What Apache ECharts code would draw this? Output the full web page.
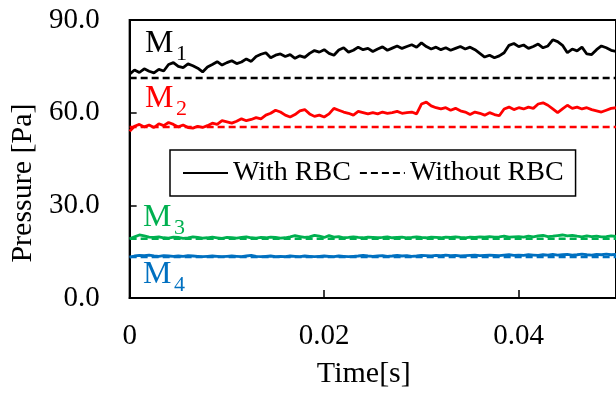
<!DOCTYPE html>
<html>
<head>
<meta charset="utf-8">
<script src="https://cdn.jsdelivr.net/npm/echarts@6/dist/echarts.min.js"></script>
<style>
  html, body { margin: 0; padding: 0; background: #fff; }
  #chart { width: 616px; height: 394px; }
</style>
</head>
<body>
<div id="chart"></div>
<script>
// sample step in seconds
const step = 0.0005
const xMax = 0.05

const m1With = [
  72.5, 73.8, 73.0, 74.2, 73.4, 72.9, 74.0, 73.5, 75.6, 76.2,
  75.0, 74.6, 75.8, 75.2, 74.4, 73.2, 74.8, 75.6, 76.5, 75.4,
  76.2, 76.8, 75.9, 76.4, 77.4, 76.6, 78.2, 78.9, 79.4, 77.8,
  78.6, 79.0, 78.2, 78.8, 77.6, 78.4, 77.9, 79.2, 80.1, 79.6,
  80.4, 79.2, 78.6, 80.3, 81.0, 79.6, 80.2, 81.2, 80.4, 80.8,
  79.8, 80.6, 81.3, 80.2, 80.9, 81.6, 80.8, 81.4, 82.0, 81.2,
  82.6, 81.4, 80.6, 81.2, 80.4, 81.0, 80.2, 80.8, 81.4, 80.6,
  81.2, 80.4, 79.2, 78.0, 78.6, 77.8, 78.4, 79.4, 81.8, 82.4,
  81.4, 81.9, 80.8, 81.4, 82.2, 81.0, 81.6, 83.6, 83.0, 81.8,
  79.4, 80.6, 80.0, 81.2, 79.0, 78.8, 80.4, 81.6, 81.0, 80.2, 79.8
]
const m2With = [
  54.0, 55.6, 56.2, 55.4, 56.0, 55.2, 56.4, 55.8, 56.8, 56.2,
  55.4, 56.0, 55.2, 55.0, 55.6, 55.2, 55.8, 56.6, 56.2, 57.4,
  57.0, 56.6, 57.2, 58.0, 57.4, 57.8, 58.4, 58.0, 59.2, 59.8,
  60.8, 60.2, 59.2, 58.6, 59.4, 60.6, 61.0, 59.6, 58.8, 59.2,
  58.6, 59.6, 61.4, 60.8, 60.2, 59.8, 59.2, 60.4, 60.0, 59.6,
  60.0, 59.6, 60.2, 59.8, 60.0, 60.4, 59.8, 60.0, 60.2, 59.6,
  62.8, 63.4, 62.2, 61.6, 61.2, 61.6, 60.8, 61.4, 60.6, 60.2,
  59.4, 60.2, 59.8, 59.2, 60.0, 59.4, 59.0, 61.2, 61.8, 61.0,
  61.6, 61.2, 61.8, 61.4, 62.8, 63.2, 62.4, 61.2, 60.0, 61.2,
  62.4, 61.4, 61.8, 61.2, 61.6, 61.0, 60.6, 60.2, 60.8, 61.4, 61.6
]
const m3With = [
  19.2, 19.8, 20.4, 20.1, 19.7, 19.6, 19.8, 19.5, 19.4, 19.7,
  19.6, 19.3, 19.5, 19.8, 19.6, 19.4, 19.5, 19.7, 19.5, 19.3,
  19.6, 19.5, 19.4, 19.6, 19.8, 19.5, 19.4, 19.6, 19.5, 19.7,
  19.6, 19.4, 19.5, 19.8, 20.2, 19.9, 19.6, 19.8, 20.3, 20.0,
  19.6, 20.2, 19.7, 19.9, 19.5, 19.6, 19.8, 19.6, 19.5, 19.7,
  19.6, 19.5, 19.6, 19.8, 19.5, 19.6, 19.7, 19.5, 19.6, 19.8,
  19.6, 19.5, 19.7, 19.6, 19.5, 19.7, 19.6, 19.8, 19.6, 19.5,
  19.7, 19.6, 19.8, 19.7, 19.9, 19.7, 19.8, 20.0, 19.7, 19.8,
  19.9, 19.7, 20.0, 19.8, 20.1, 20.3, 19.9, 20.0, 20.2, 20.4,
  20.1, 20.3, 20.0, 19.8, 20.1, 19.9, 20.0, 19.8, 19.9, 20.1, 19.9
]
const m4With = [
  13.2, 13.6, 13.8, 13.7, 13.9, 13.6, 13.5, 13.7, 13.6, 13.5,
  13.6, 13.5, 13.7, 13.6, 13.5, 13.4, 13.5, 13.6, 13.5, 13.4,
  13.5, 13.6, 13.5, 13.4, 13.6, 13.8, 13.5, 13.4, 13.5, 13.6,
  13.4, 13.5, 13.4, 13.6, 13.5, 13.4, 13.6, 13.5, 13.4, 13.5,
  13.6, 13.5, 13.4, 13.6, 13.5, 13.4, 13.5, 13.6, 13.8, 13.6,
  13.5, 13.6, 13.7, 13.5, 13.6, 13.8, 13.6, 13.7, 13.5, 13.6,
  13.8, 13.7, 13.6, 13.8, 13.7, 13.9, 13.7, 13.8, 13.6, 13.7,
  13.8, 13.9, 13.7, 13.8, 13.9, 13.8, 13.7, 13.9, 14.0, 13.8,
  13.9, 13.8, 14.0, 13.9, 13.8, 14.0, 13.9, 14.1, 13.9, 14.0,
  14.1, 13.9, 14.0, 14.2, 14.0, 13.9, 14.1, 14.0, 14.2, 14.0, 14.1
]
// without RBC: flat levels
const withoutLevels = [71.2, 55.4, 19.2, 13.3]

const labels = ['1', '2', '3', '4']
const colors = ['#000000', '#ff0000', '#00b050', '#0070c0']
const font = '"Liberation Serif", "Times New Roman", serif'

const withData = [m1With, m2With, m3With, m4With]

const series = []
withData.forEach((vals, k) => {
  series.push({
    name: 'With RBC',
    type: 'line',
    symbol: 'none',
    data: vals.map((v, i) => [i * step, v]),
    lineStyle: { color: colors[k], width: 2.8 },
    itemStyle: { color: colors[k] },
    z: 3
  })
})
withoutLevels.forEach((v, k) => {
  series.push({
    name: 'Without RBC',
    type: 'line',
    symbol: 'none',
    data: [[0, v], [xMax, v]],
    lineStyle: { color: colors[k], width: 2.5, type: [7, 4] },
    itemStyle: { color: colors[k] },
    z: 2
  })
})

// M labels (pixel spots next to each curve)
const mSpots = [
  { x: 145, y: 44 },
  { x: 145, y: 99 },
  { x: 143, y: 218 },
  { x: 143, y: 275 }
]
const graphics = []
mSpots.forEach((p, k) => {
  graphics.push({
    type: 'text', x: p.x, y: p.y,
    style: { text: 'M', fill: colors[k], font: '32px ' + font, verticalAlign: 'middle' }
  })
  graphics.push({
    type: 'text', x: p.x + 31, y: p.y + 10,
    style: { text: labels[k], fill: colors[k], font: '22px ' + font, verticalAlign: 'middle' }
  })
})

const chart = echarts.init(document.getElementById('chart'), null, { renderer: 'canvas' })
chart.setOption({
  animation: false,
  backgroundColor: '#fff',
  grid: {
    left: 128, top: 20, right: -2, bottom: 96,
    show: true, borderColor: '#000', borderWidth: 2, backgroundColor: 'transparent'
  },
  legend: {
    data: ['With RBC', 'Without RBC'],
    left: 170, top: 150,
    padding: [9, 12, 9, 12],
    itemWidth: 45, itemHeight: 14, itemGap: 8,
    itemStyle: { opacity: 0, borderWidth: 0 },
    lineStyle: { width: 2 },
    borderColor: '#000', borderWidth: 1.5,
    backgroundColor: '#fff',
    textStyle: { fontFamily: font, fontSize: 28, color: '#000' }
  },
  xAxis: {
    type: 'value',
    min: 0, max: xMax, interval: 0.02,
    name: 'Time[s]',
    nameLocation: 'middle',
    nameGap: 61,
    nameTextStyle: { fontFamily: font, fontSize: 30, color: '#000', padding: [0, 18, 0, 0] },
    axisLine: { lineStyle: { color: '#000', width: 2 } },
    axisTick: { inside: true, length: 8, lineStyle: { color: '#000', width: 1.5 } },
    axisLabel: {
      fontFamily: font, fontSize: 29, color: '#000', margin: 24,
      showMaxLabel: false,
      formatter: v => v === 0 ? '0' : v.toFixed(2)
    },
    splitLine: { show: false }
  },
  yAxis: {
    type: 'value',
    min: 0, max: 90, interval: 30,
    name: 'Pressure [Pa]',
    nameLocation: 'middle',
    nameGap: 90,
    nameTextStyle: { fontFamily: font, fontSize: 30, color: '#000', padding: [0, 48, 0, 0] },
    axisLine: { show: true, lineStyle: { color: '#000', width: 2 } },
    axisTick: { show: true, inside: true, length: 7, lineStyle: { color: '#000', width: 1.5 } },
    axisLabel: {
      fontFamily: font, fontSize: 29, color: '#000', margin: 30,
      formatter: v => v.toFixed(1)
    },
    splitLine: { show: false }
  },
  graphic: graphics,
  series: series
})
</script>
</body>
</html>
